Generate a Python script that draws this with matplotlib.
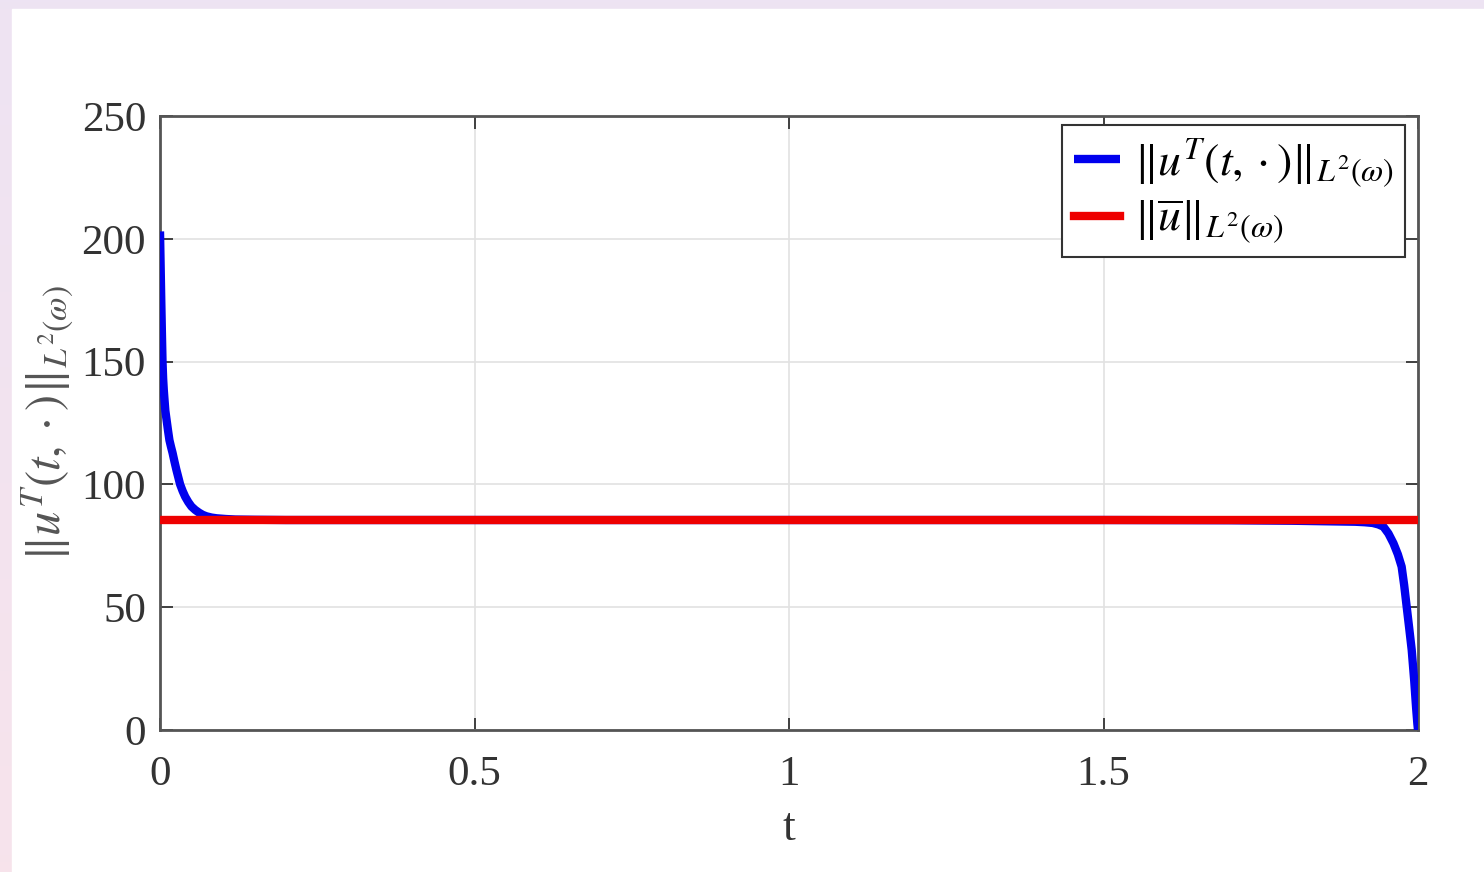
import numpy as np
import matplotlib
matplotlib.use("Agg")
import matplotlib.pyplot as plt
from matplotlib.patches import Rectangle

# Norm of the state over time and the steady-state reference norm
t_vals = [0.0, 0.0005, 0.001, 0.0015, 0.002, 0.003, 0.004, 0.005, 0.006, 0.007,
          0.0085, 0.0106, 0.013, 0.015, 0.0175, 0.020, 0.023, 0.026, 0.029, 0.032,
          0.036, 0.040, 0.045, 0.050, 0.056, 0.062, 0.068, 0.074, 0.082, 0.090,
          0.105, 0.120, 0.150, 0.200, 0.5, 1.0, 1.5, 1.7, 1.8, 1.85,
          1.90, 1.915, 1.928, 1.937, 1.945, 1.953, 1.961, 1.968, 1.974, 1.978,
          1.982, 1.986, 1.990, 1.994, 1.997, 1.999, 2.0]
u_norm = [203.0, 196.0, 189.0, 182.0, 175.0, 162.0, 150.0, 143.0, 138.5, 135.0,
          130.0, 126.0, 121.5, 118.0, 115.3, 112.8, 109.3, 106.0, 103.0, 100.0,
          97.3, 95.0, 92.8, 91.0, 89.6, 88.5, 87.6, 87.0, 86.5, 86.2,
          85.9, 85.7, 85.6, 85.5, 85.5, 85.5, 85.5, 85.4, 85.2, 85.0,
          84.8, 84.6, 84.3, 83.7, 82.8, 80.0, 76.0, 71.5, 66.5, 59.0,
          50.2, 41.5, 32.6, 20.0, 9.0, 2.5, 0.0]
ubar_norm = 85.5

x_ticks = [0, 0.5, 1, 1.5, 2]
x_tick_labels = ["0", "0.5", "1", "1.5", "2"]
y_ticks = [0, 50, 100, 150, 200, 250]
y_tick_labels = ["0", "50", "100", "150", "200", "250"]

plt.rcParams["mathtext.fontset"] = "stix"
plt.rcParams["font.family"] = ["Liberation Serif", "DejaVu Serif"]

W, H, DPI = 1484, 872, 100
fig = plt.figure(figsize=(W / DPI, H / DPI), dpi=DPI)

# Page background: soft lavender-to-pink frame behind a white panel
bg = fig.add_axes([0, 0, 1, 1], zorder=-10)
grad = np.linspace(0, 1, 256).reshape(-1, 1)
top_col = np.array([0.933, 0.894, 0.953])
bot_col = np.array([0.969, 0.894, 0.925])
img = top_col[None, None, :] * (1 - grad[:, :, None]) + bot_col[None, None, :] * grad[:, :, None]
bg.imshow(img, aspect="auto", extent=[0, 1, 0, 1])
bg.add_patch(Rectangle((12 / W, 0), 1, 1 - 9 / H, color="white", zorder=2))
bg.set_xlim(0, 1)
bg.set_ylim(0, 1)
bg.axis("off")

left, right, top, bottom = 160, 1418, 116, 730
ax = fig.add_axes([left / W, 1 - bottom / H, (right - left) / W, (bottom - top) / H])

ax.plot(t_vals, u_norm, color="#0000ee", lw=6, solid_joinstyle="round",
        solid_capstyle="butt", label=r"$\|u^T(t,\cdot)\|_{L^2(\omega)}$", zorder=3)
ax.plot([0, 2], [ubar_norm, ubar_norm], color="#ee0000", lw=6,
        label=r"$\|\overline{u}\|_{L^2(\omega)}$", zorder=4)

ax.set_xlim(0, 2)
ax.set_ylim(0, 250)
ax.set_xticks(x_ticks)
ax.set_xticklabels(x_tick_labels)
ax.set_yticks(y_ticks)
ax.set_yticklabels(y_tick_labels)
ax.grid(True, color="#e2e2e2", lw=1.2)
ax.set_axisbelow(True)
ax.tick_params(direction="in", length=9, width=1.3, colors="#333333",
               labelsize=31, top=True, right=True)
ax.tick_params(axis="x", pad=18)
ax.tick_params(axis="y", pad=10)
for s in ax.spines.values():
    s.set_color("#555555")
    s.set_linewidth(2)

ax.set_xlabel("t", fontsize=33, color="#333333", labelpad=10)
ax.set_ylabel(r"$\|u^T(t,\cdot)\|_{L^2(\omega)}$", fontsize=35, color="#555555", labelpad=4)

leg = ax.legend(loc="upper right", bbox_to_anchor=(1 - 13 / 1258, 1 - 9 / 614),
                borderaxespad=0, fontsize=33, fancybox=False, framealpha=1,
                edgecolor="#333333", handlelength=1.0, handletextpad=0.3,
                labelspacing=0.2, borderpad=0.25)
leg.get_frame().set_linewidth(1.5)

fig.savefig("out.png", dpi=DPI)
